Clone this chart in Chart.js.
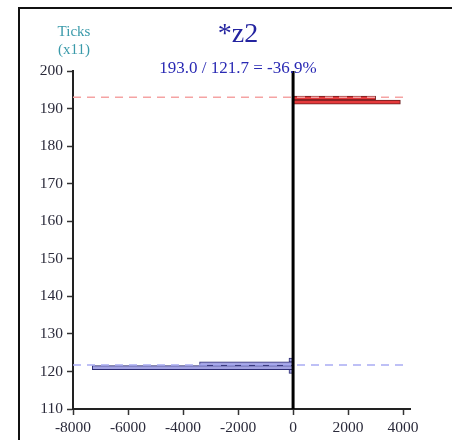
<!DOCTYPE html>
<html>
<head>
<meta charset="utf-8">
<script src="https://cdn.jsdelivr.net/npm/chart.js@4/dist/chart.umd.min.js"></script>
<style>
  html, body { margin: 0; padding: 0; background: #fff; }
  body { width: 452px; height: 440px; overflow: hidden; position: relative; font-family: 'Liberation Serif', serif; }
  #frame { position: absolute; left: 18px; top: 7px; width: 600px; height: 600px; border: 2px solid #111; }
  #wrap { position: absolute; left: 0; top: 0; width: 452px; height: 440px; }
  .txt { position: absolute; white-space: nowrap; transform: translateX(-50%); }
  #title { left: 238px; top: 17px; font-size: 28px; color: #2424a0; }
  #subtitle { left: 238px; top: 58px; font-size: 17px; color: #2a2ab4; }
  #ylab { left: 74px; top: 22px; font-size: 15px; color: #3a9aaa; text-align: center; line-height: 18px; }
</style>
</head>
<body>
<div id="frame"></div>
<div id="wrap"><canvas id="chart" width="452" height="440"></canvas></div>
<div class="txt" id="title">*z2</div>
<div class="txt" id="subtitle">193.0 / 121.7 = -36.9%</div>
<div class="txt" id="ylab">Ticks<br>(x11)</div>
<script>
// values
const redLevels = [192.8, 191.7];
const redValues = [3000, 3900];
const blueLevels = [123, 122, 121, 120];
const blueValues = [-150, -3400, -7300, -150];
const redMean = 193.0;
const blueMean = 121.7;
const xRange = [-8000, 4000];
const xTicks = [-8000, -6000, -4000, -2000, 0, 2000, 4000];
const yTicks = [110, 120, 130, 140, 150, 160, 170, 180, 190, 200];

const tickFont = { family: 'Liberation Serif', size: 15.5 };
const tickColor = '#2a2a3a';

function toPoints(levels, values) {
    return levels.map((y, i) => ({ x: values[i], y: y }));
}

// black vertical line at x = 0
const zeroLine = {
    id: 'zeroLine',
    afterDatasetsDraw(chart) {
        const { ctx, chartArea, scales } = chart;
        const px = scales.x.getPixelForValue(0);
        ctx.save();
        ctx.strokeStyle = '#000';
        ctx.lineWidth = 3;
        ctx.beginPath();
        ctx.moveTo(px, chartArea.top);
        ctx.lineTo(px, chartArea.bottom);
        ctx.stroke();
        ctx.restore();
    }
};

const ctx = document.getElementById('chart').getContext('2d');
new Chart(ctx, {
    type: 'bar',
    data: {
        datasets: [
            {
                type: 'line',
                data: xRange.map(x => ({ x: x, y: redMean })),
                borderColor: '#f5a3a3',
                borderWidth: 1.5,
                borderDash: [8, 6],
                pointRadius: 0,
                order: 0
            },
            {
                type: 'line',
                data: xRange.map(x => ({ x: x, y: blueMean })),
                borderColor: '#a9acf3',
                borderWidth: 1.5,
                borderDash: [8, 6],
                pointRadius: 0,
                order: 0
            },
            {
                indexAxis: 'y',
                data: toPoints(redLevels, redValues),
                backgroundColor: '#e53a3c',
                borderColor: '#6a1c1c',
                borderWidth: 1,
                barThickness: 4,
                grouped: false,
                order: 1
            },
            {
                indexAxis: 'y',
                data: toPoints(blueLevels, blueValues),
                backgroundColor: '#a3a3e2',
                borderColor: '#2c2c72',
                borderWidth: 1,
                barThickness: 4,
                grouped: false,
                order: 1
            }
        ]
    },
    options: {
        responsive: false,
        animation: false,
        indexAxis: 'y',
        layout: { padding: { left: 0, top: 71, right: 42, bottom: 0 } },
        scales: {
            x: {
                type: 'linear',
                min: -8000,
                max: 4250,
                offset: false,
                afterFit: s => { s.height = 31; },
                afterBuildTicks: s => { s.ticks = xTicks.map(v => ({ value: v })); },
                ticks: { font: tickFont, color: tickColor, padding: 4, callback: v => String(v) },
                grid: { offset: false, drawOnChartArea: false, tickLength: 6, tickColor: '#333', tickWidth: 1.5 },
                border: { display: true, color: '#222', width: 2 }
            },
            y: {
                type: 'linear',
                min: 110,
                max: 200,
                offset: false,
                afterFit: s => { s.width = 73; },
                afterBuildTicks: s => { s.ticks = yTicks.map(v => ({ value: v })); },
                ticks: { font: tickFont, color: tickColor, padding: 4, callback: v => String(v) },
                grid: { offset: false, drawOnChartArea: false, tickLength: 6, tickColor: '#333', tickWidth: 1.5 },
                border: { display: true, color: '#222', width: 2 }
            }
        },
        plugins: {
            legend: { display: false },
            tooltip: { enabled: false }
        }
    },
    plugins: [zeroLine]
});
</script>
</body>
</html>
